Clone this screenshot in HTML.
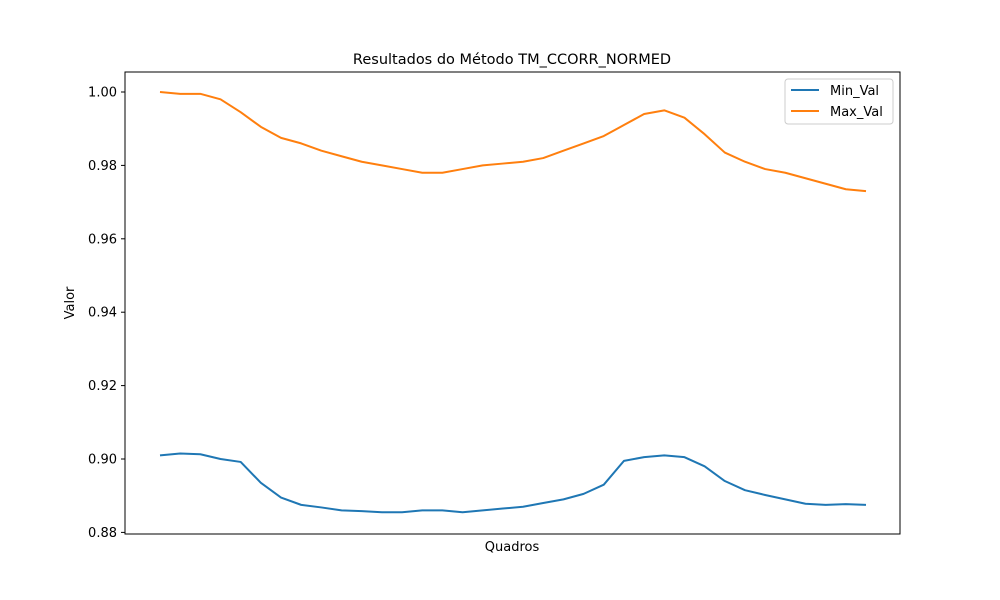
<!DOCTYPE html>
<html><head><meta charset="utf-8"><style>
body{margin:0;background:#fff;}
svg{display:block;font-family:"DejaVu Sans","Liberation Sans",sans-serif;}
</style></head><body>
<svg id="chart" width="1000" height="600">
<rect width="1000" height="600" fill="#fff"/>
<text x="512" y="64" text-anchor="middle" font-size="14.5">Resultados do Método TM_CCORR_NORMED</text>
<g id="yticks"></g>
<g id="series"></g>
<rect x="125" y="72" width="775" height="462" fill="none" stroke="#000" stroke-width="1"/>
<text x="512" y="551" text-anchor="middle" font-size="13">Quadros</text>
<text x="74" y="303" text-anchor="middle" font-size="13" transform="rotate(-90 74 303)">Valor</text>
<g>
<rect x="785" y="79" width="108" height="45" fill="#fff" stroke="#ccc" rx="3"/>
<g>
<line x1="791" y1="90" x2="819" y2="90" stroke="#1f77b4" stroke-width="2"/>
<text x="830" y="95" font-size="13">Min_Val</text></g>
<g>
<line x1="791" y1="111" x2="819" y2="111" stroke="#ff7f0e" stroke-width="2"/>
<text x="830" y="116" font-size="13">Max_Val</text></g>
</g>
</svg>
<script>
const frames = Array.from({length:36},(_,i)=>i);
const maxVal = [1.000,0.9995,0.9995,0.998,0.9945,0.9905,0.9875,0.986,0.984,0.9825,0.981,0.980,0.979,0.978,0.978,0.979,0.980,0.9805,0.981,0.982,0.984,0.986,0.988,0.991,0.994,0.995,0.993,0.9885,0.9835,0.981,0.979,0.978,0.9765,0.975,0.9735,0.973];
const minVal = [0.901,0.9015,0.9013,0.900,0.8992,0.8935,0.8895,0.8875,0.8868,0.886,0.8858,0.8855,0.8855,0.886,0.886,0.8855,0.886,0.8865,0.887,0.888,0.889,0.8905,0.893,0.8995,0.9005,0.901,0.9005,0.898,0.894,0.8915,0.8902,0.889,0.8878,0.8875,0.8877,0.8875];
const yTicks = [0.88,0.90,0.92,0.94,0.96,0.98,1.00];
const NS="http://www.w3.org/2000/svg";
const xS = i => 160 + i*(866-160)/(frames.length-1);
const yS = v => 92 + (1.0 - v)/0.02*73.4;
const yt=document.getElementById('yticks');
yTicks.forEach(t=>{
  const l=document.createElementNS(NS,'line');
  l.setAttribute('x1',121);l.setAttribute('x2',125);l.setAttribute('y1',yS(t));l.setAttribute('y2',yS(t));l.setAttribute('stroke','#000');
  
  
  yt.appendChild(l);
  const tx=document.createElementNS(NS,'text');
  tx.setAttribute('x',117);tx.setAttribute('y',yS(t)+4.5);tx.setAttribute('text-anchor','end');tx.setAttribute('font-size','13');
  tx.textContent=t.toFixed(2);
  
  
  yt.appendChild(tx);
});
const sg=document.getElementById('series');
function draw(vals,color,name){
  const p=document.createElementNS(NS,'polyline');
  p.setAttribute('points',vals.map((v,i)=>xS(frames[i])+','+yS(v)).join(' '));
  p.setAttribute('fill','none');p.setAttribute('stroke',color);p.setAttribute('stroke-width','2');
  p.setAttribute('stroke-linejoin','round');
  
  
  sg.appendChild(p);
}
draw(minVal,'#1f77b4','min-val-line');
draw(maxVal,'#ff7f0e','max-val-line');
</script>
</body></html>
